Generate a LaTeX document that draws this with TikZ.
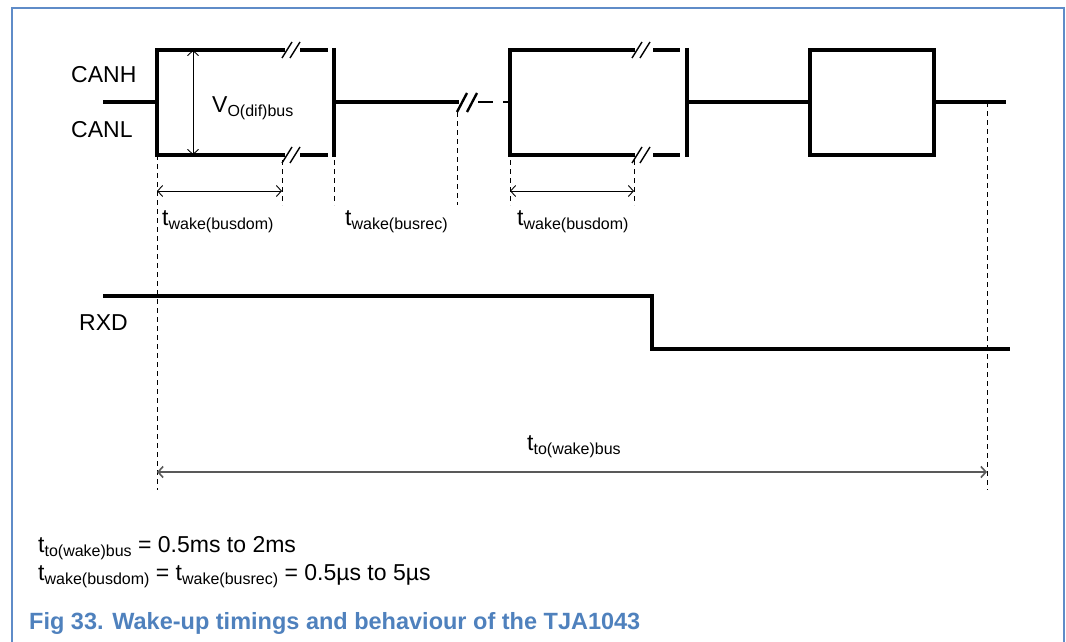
\documentclass[tikz,border=0pt]{standalone}
\usepackage{fontspec}
\setmainfont{Liberation Sans}
\usetikzlibrary{arrows.meta}
\definecolor{capblue}{RGB}{79,129,189}
\definecolor{frameblue}{RGB}{95,140,200}
\newcommand\tsub[2]{#1\raisebox{-4pt}{\fontsize{16}{16}\selectfont #2}}
\tikzset{
  sig/.style={line width=3.6pt},
  edge/.style={line width=4.6pt},
  brk/.style={line width=1.4pt},
  guide/.style={line width=0.8pt, dash pattern=on 5pt off 4pt},
  span/.style={line width=0.9pt, {Straight Barb[length=5pt,width=11pt]}-{Straight Barb[length=5pt,width=11pt]}},
  lbl/.style={anchor=base west, inner sep=0pt, font=\fontsize{23}{27}\selectfont}
}
\begin{document}
\begin{tikzpicture}[x=1pt,y=-1pt]
\useasboundingbox (0,0) rectangle (1066,642);
% frame
\draw[frameblue, line width=1.3pt] (12,642) -- (12,8) -- (1064,8) -- (1064,642);
% CANH / CANL
\draw[sig] (103,102) -- (157,102);
\draw[sig] (285,50) -- (157,50) -- (157,155) -- (285,155);
\draw[sig] (300,50) -- (328,50);
\draw[sig] (300,155) -- (328,155);
\draw[edge] (334,48) -- (334,157);
\draw[sig] (334,102) -- (459,102);
\draw[line width=2.4pt] (457,112) -- ++(10,-19) (467,112) -- ++(10,-19);
\draw[line width=2pt] (478,102) -- (493,102);
\draw[line width=2pt] (503,102) -- (510,102);
\draw[sig] (635,50) -- (510,50) -- (510,155) -- (635,155);
\draw[sig] (653,50) -- (680,50);
\draw[sig] (653,155) -- (680,155);
\draw[edge] (687,48) -- (687,157);
\draw[sig] (687,102) -- (810,102);
\draw[sig] (810,50) rectangle (934,155);
\draw[sig] (934,102) -- (1006,102);
% break marks
\foreach \bx/\by in {282/50, 282/155, 632/50, 632/155}
  \draw[brk] (\bx,\by+8) -- ++(10,-16) (\bx+8,\by+8) -- ++(10,-16);
% RXD
\draw[sig] (103,296) -- (652,296) -- (652,349) -- (1010,349);
% dashed guides
\foreach \gx/\gy/\gz in {157/155/490, 282/160/205, 334/160/205, 457/112/205, 510/160/205, 634/160/205, 987/102/490}
  \draw[guide] (\gx,\gy) -- (\gx,\gz);
% dimension arrows
\coordinate (vt) at (193,50);
\coordinate (vb) at (193,155);
\coordinate (d0) at (157,191);
\coordinate (d1) at (282,191);
\coordinate (d4) at (510,191);
\coordinate (d5) at (634,191);
\coordinate (e0) at (157,472);
\coordinate (e1) at (987,472);
\draw[span] (vt) -- (vb);
\draw[span] (d0) -- (d1);
\draw[span] (d4) -- (d5);
\draw[span, line width=1.6pt, draw=black!65] (e0) -- (e1);
% labels
\node[lbl] (canh) at (71,83) {CANH};
\node[lbl] (canl) at (71,137) {CANL};
\node[lbl] (vdif) at (212,112) {\tsub{V}{O(dif)bus}};
\node[lbl] (rxd) at (79,330) {RXD};
\node[lbl] (twd1) at (162,225) {\tsub{t}{wake(busdom)}};
\node[lbl] (twr) at (345,225) {\tsub{t}{wake(busrec)}};
\node[lbl] (twd2) at (517,225) {\tsub{t}{wake(busdom)}};
\node[lbl] (tto) at (527,450) {\tsub{t}{to(wake)bus}};
\node[lbl] (eq1) at (38,552) {\tsub{t}{to(wake)bus} = 0.5ms to 2ms};
\node[lbl] (eq2) at (38,580) {\tsub{t}{wake(busdom)} = \tsub{t}{wake(busrec)} = 0.5µs to 5µs};
\node[lbl, text=capblue, font=\fontsize{23.5}{28}\selectfont\bfseries] (cap) at (29,629) {Fig 33. Wake-up timings and behaviour of the TJA1043};
\end{tikzpicture}
\end{document}
